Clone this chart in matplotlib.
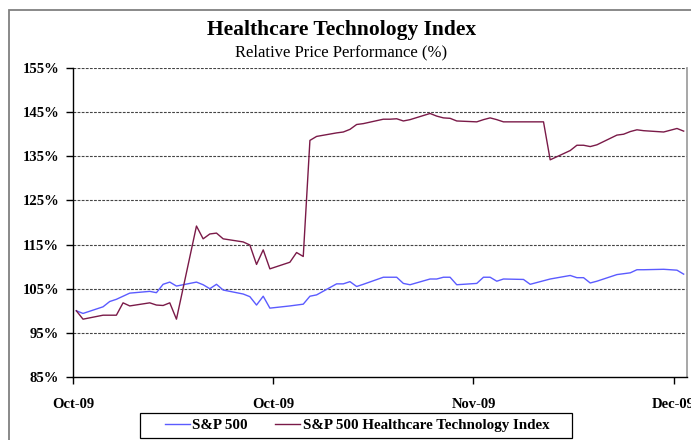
import numpy as np
import pandas as pd
import matplotlib
matplotlib.use('Agg')
import matplotlib.pyplot as plt
from matplotlib.patches import Rectangle

# Trading days (weekdays) Oct 1 - Dec 31 2009
dates = pd.bdate_range('2009-10-01', '2009-12-31')

sp500 = [100.0, 99.4, 100.9, 102.1, 102.6, 103.3, 104.0,
         104.4, 104.1, 106.0, 106.5, 105.6,
         106.5, 105.9, 105.0, 106.0, 104.7,
         103.8, 103.2, 101.3, 103.3, 100.6,
         101.1, 101.3, 101.5, 103.3, 103.6,
         106.1, 106.1, 106.6, 105.5, 106.0,
         107.6, 107.6, 107.6, 106.2, 105.9,
         107.2, 107.2, 107.6, 107.6, 105.9,
         106.2, 107.6, 107.6, 106.7, 107.2,
         107.1, 106.0, 106.4, 106.8, 107.2,
         108.0, 107.5, 107.5, 106.3, 106.7,
         108.2, 108.4, 108.6, 109.3, 109.3,
         109.4, 109.3, 109.2, 108.3]

healthcare_tech = [100.0, 98.1, 99.0, 99.0, 99.0, 101.8, 101.1,
                   101.8, 101.3, 101.2, 101.8, 98.1,
                   119.2, 116.3, 117.4, 117.6, 116.3,
                   115.6, 114.9, 110.5, 113.8, 109.5,
                   111.0, 113.2, 112.3, 138.6, 139.5,
                   140.3, 140.5, 141.1, 142.2, 142.4,
                   143.4, 143.4, 143.5, 143.0, 143.3,
                   144.7, 144.1, 143.7, 143.6, 143.0,
                   142.8, 143.3, 143.7, 143.3, 142.8,
                   142.8, 142.8, 142.8, 142.8, 134.2,
                   136.3, 137.5, 137.5, 137.2, 137.6,
                   139.8, 140.0, 140.6, 141.0, 140.8,
                   140.5, 140.9, 141.3, 140.7]

tick_days = [0, 30, 60, 90]
tick_labels = ['Oct-09', 'Oct-09', 'Nov-09', 'Dec-09']
y_ticks = [85, 95, 105, 115, 125, 135, 145, 155]

x = (dates - dates[0]).days.values + 0.5

plt.rcParams['font.family'] = ['Liberation Serif', 'DejaVu Serif']

W, H = 691, 440
fig = plt.figure(figsize=(6.91, 4.4), dpi=100)
ax = fig.add_axes([73/W, 1-377/H, 614/W, 309/H])

# outer chart frame
fig.patches.append(Rectangle((9/W, -0.1), 1.0, 1 - 10/H + 0.1, transform=fig.transFigure,
                             fill=False, edgecolor='#808080', linewidth=1.3, zorder=0))

ax.plot(x, sp500, color='#5b5bff', linewidth=1.0, label='S&P 500')
ax.plot(x, healthcare_tech, color='#7a1a48', linewidth=1.0, label='S&P 500 Healthcare Technology Index')

ax.set_xlim(0, 92)
ax.set_ylim(85, 155)
ax.set_yticks(y_ticks)
ax.set_yticklabels([f'{v}%' for v in y_ticks])
ax.set_xticks(tick_days)
ax.set_xticklabels(tick_labels)

for v in y_ticks[1:]:
    ax.axhline(v, color='#444444', linestyle=(0, (2.5, 1.2)), linewidth=0.8, zorder=0)

ax.spines['top'].set_visible(False)
ax.spines['right'].set_color('#a0a0a0')
ax.spines['right'].set_linewidth(1.3)
ax.spines['left'].set_linewidth(1.0)
ax.spines['bottom'].set_linewidth(1.0)
ax.tick_params(axis='both', direction='out', length=5, width=1.0, labelsize=10.5)
ax.tick_params(axis='x', pad=10)
ax.tick_params(axis='y', pad=5)
for lbl in ax.get_xticklabels() + ax.get_yticklabels():
    lbl.set_fontweight('bold')

fig.text(0.4937, 1 - 30/H, 'Healthcare Technology Index', ha='center', va='center',
         fontsize=15.5, fontweight='bold')
fig.text(0.4937, 1 - 52/H, 'Relative Price Performance (%)', ha='center', va='center',
         fontsize=12)

# legend box drawn separately (wide side padding, tight top/bottom)
fig.patches.append(Rectangle((140/W, 1 - 438/H), 432/W, 25/H, transform=fig.transFigure,
                             fill=False, edgecolor='black', linewidth=0.9, zorder=3))
leg = fig.legend(loc='center', bbox_to_anchor=(357/W, 1 - 425.5/H), ncol=2,
                 frameon=False, handlelength=1.7, handletextpad=0.15, columnspacing=1.8,
                 borderpad=0.0, prop={'weight': 'bold', 'size': 10.8})

fig.savefig('out.png', dpi=100)
